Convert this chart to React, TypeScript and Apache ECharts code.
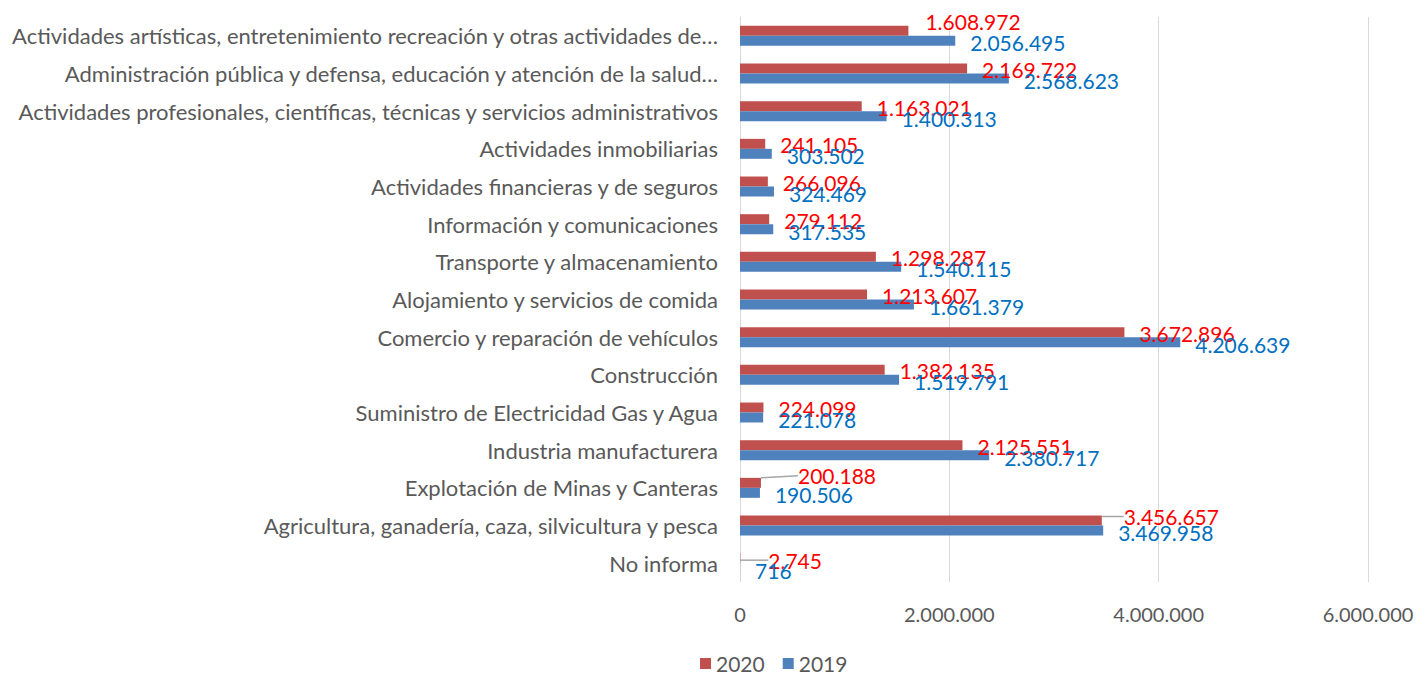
import React, { useEffect, useRef } from "react";
import * as echarts from "echarts";

const categories = [
  "No informa",
  "Agricultura, ganadería, caza, silvicultura y pesca",
  "Explotación de Minas y Canteras",
  "Industria manufacturera",
  "Suministro de Electricidad Gas y Agua",
  "Construcción",
  "Comercio y reparación de vehículos",
  "Alojamiento y servicios de comida",
  "Transporte y almacenamiento",
  "Información y comunicaciones",
  "Actividades financieras y de seguros",
  "Actividades inmobiliarias",
  "Actividades profesionales, científicas, técnicas y servicios administrativos",
  "Administración pública y defensa, educación y atención de la salud…",
  "Actividades artísticas, entretenimiento recreación y otras actividades de…",
];

const values2020 = [
  2745, 3456657, 200188, 2125551, 224099, 1382135, 3672896, 1213607, 1298287,
  279112, 266096, 241105, 1163021, 2169722, 1608972,
];

const values2019 = [
  716, 3469958, 190506, 2380717, 221078, 1519791, 4206639, 1661379, 1540115,
  317535, 324469, 303502, 1400313, 2568623, 2056495,
];

const xTicks = { min: 0, max: 6000000, interval: 2000000 };

const fmt = (v: number) =>
  String(Math.round(v)).replace(/\B(?=(\d{3})+(?!\d))/g, ".");

// 2020 labels drawn with leader lines: [dx, dy]
const leaderIdx: Record<number, [number, number]> = {
  0: [13, 2],
  1: [7, -4],
  2: [22, -7],
};

export default function App() {
  const ref = useRef<HTMLDivElement>(null);
  useEffect(() => {
    document.body.style.margin = "0";
    const chart = echarts.init(ref.current!, null, { renderer: "svg" });
    const font = "Lato, 'Open Sans', sans-serif";
    chart.setOption({
      animation: false,
      textStyle: { fontFamily: font },
      grid: { left: 740, right: 59, top: 17, bottom: 93, containLabel: false },
      legend: {
        top: 648,
        left: 695,
        itemWidth: 11,
        itemHeight: 11,
        itemGap: 18,
        icon: "rect",
        textStyle: { fontSize: 21, color: "#595959", fontFamily: font },
        data: ["2020", "2019"],
      },
      xAxis: {
        type: "value",
        min: xTicks.min,
        max: xTicks.max,
        interval: xTicks.interval,
        axisLine: { show: false },
        axisTick: { show: false },
        splitLine: { lineStyle: { color: "#D9D9D9", width: 1 } },
        axisLabel: {
          fontSize: 20,
          color: "#595959",
          margin: 22,
          formatter: (v: number) => fmt(v),
        },
      },
      yAxis: {
        type: "category",
        data: categories,
        axisLine: { show: true, lineStyle: { color: "#D9D9D9" } },
        axisTick: { show: false },
        axisLabel: { fontSize: 22, color: "#595959", margin: 22 },
      },
      series: [
        {
          name: "2020",
          type: "bar",
          barCategoryGap: "47%",
          barGap: "0%",
          itemStyle: { color: "#C0504D" },
          label: {
            show: true,
            position: "right",
            distance: 15,
            color: "#FF0000",
            fontSize: 21,
            fontFamily: font,
            formatter: (p: any) => fmt(p.value),
          },
          labelLine: { show: false, lineStyle: { color: "#A6A6A6", width: 1.5 } },
          labelLayout: (p: any) => {
            const d = leaderIdx[p.dataIndex];
            if (d) return { dx: d[0], dy: d[1] };
            if (p.dataIndex === 14) return { dx: 2, dy: -9 };
            return { dx: 0, dy: 1 };
          },
          data: values2020.map((v, i) =>
            leaderIdx[i]
              ? {
                  value: v,
                  labelLine: { show: true, lineStyle: { color: "#A6A6A6", width: 1.5 } },
                }
              : v
          ),
        },
        {
          name: "2019",
          type: "bar",
          barCategoryGap: "47%",
          barGap: "0%",
          itemStyle: { color: "#4F81BD" },
          label: {
            show: true,
            position: "right",
            distance: 15,
            offset: [0, 2],
            color: "#0070C0",
            fontSize: 21,
            fontFamily: font,
            formatter: (p: any) => fmt(p.value),
          },
          data: values2019,
        },
      ],
    });
    return () => chart.dispose();
  }, []);
  return <div ref={ref} style={{ width: 1427, height: 675 }} />;
}
